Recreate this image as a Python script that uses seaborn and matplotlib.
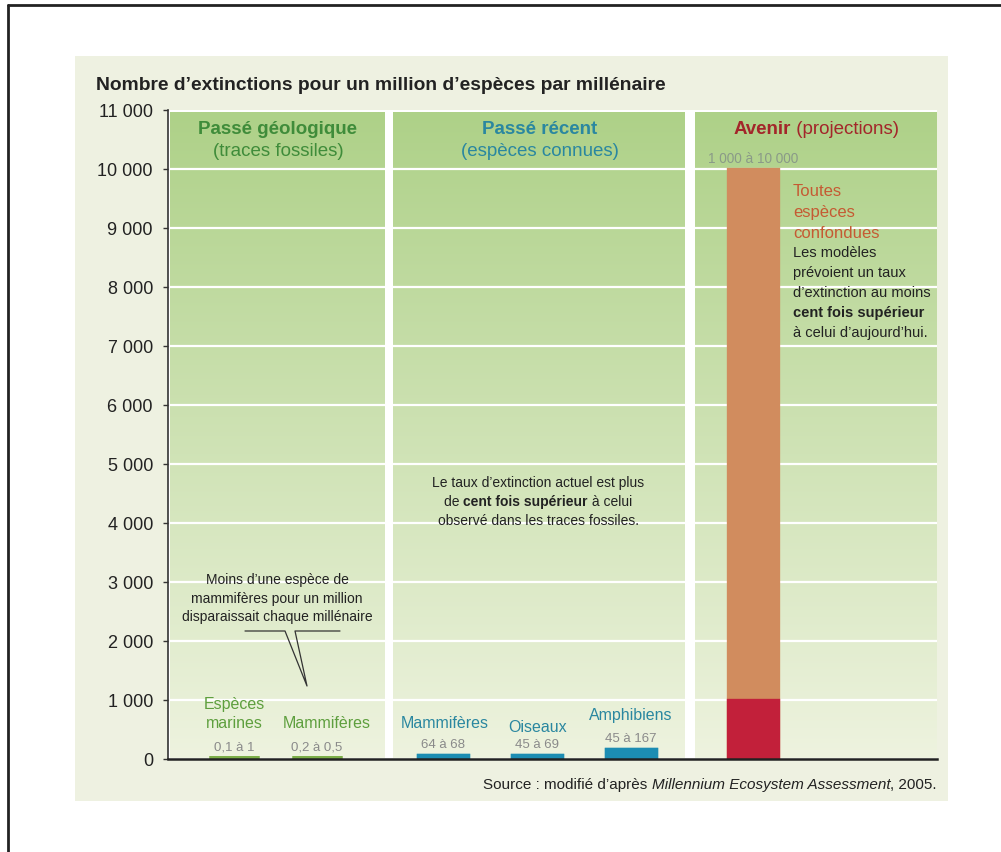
import numpy as np
import pandas as pd
import matplotlib
matplotlib.use("Agg")
import matplotlib.pyplot as plt
import seaborn as sns
from matplotlib.colors import to_rgb
from matplotlib.patches import Rectangle
from matplotlib.lines import Line2D
import matplotlib.transforms as mtrans

# ---------------- data ----------------
bar_ids = ["marines", "mammif_geo", "mammif_rec", "oiseaux", "amphibiens", "avenir"]
bar_names = ["Espèces\nmarines", "Mammifères", "Mammifères", "Oiseaux", "Amphibiens", "Toutes espèces confondues"]
range_labels = ["0,1 à 1", "0,2 à 0,5", "64 à 68", "45 à 69", "45 à 167", "1 000 à 10 000"]
low_values = [0.1, 0.2, 64, 45, 45, 1000]
high_values = [1, 0.5, 68, 69, 167, 10000]
ytick_values = [0, 1000, 2000, 3000, 4000, 5000, 6000, 7000, 8000, 9000, 10000, 11000]
ytick_labels = ["0", "1 000", "2 000", "3 000", "4 000", "5 000", "6 000", "7 000",
                "8 000", "9 000", "10 000", "11 000"]
panel_titles = ["Passé géologique", "Passé récent", "Avenir"]
panel_subtitles = ["(traces fossiles)", "(espèces connues)", " (projections)"]
title = "Nombre d\u2019extinctions pour un million d\u2019espèces par millénaire"

# ---------------- layout / style ----------------
W, H = 1001, 853
bar_x = [66.5, 149.5, 275.5, 370, 464, 586]          # slot positions on the x scale
panel_spans = [(3, 218), (226, 518), (528, 770)]
label_dx = [0, 10, 2, 0, 0, 0]
name_y = [None, 723, 723, 728, 716, None]
range_y = [748, 748, 745, 745, 739, None]

GEO_T = "#3f8c3a"; GEO_L = "#5e9f3e"; GEO_BAR = "#7cae48"
TEAL_T = "#2a87a0"; TEAL_BAR = "#1c8db3"
RED_T = "#a3262a"; RED_BAR = "#c2203a"; ORANGE_BAR = "#d18c5e"; ORANGE_T = "#c55a33"
GRAY = "#8a8a8a"; DARK = "#222222"; CREAM = "#eef1e1"

sns.set_theme(style="white")
plt.rcParams["font.family"] = ["Liberation Sans", "DejaVu Sans"]

fig = plt.figure(figsize=(W / 100, H / 100), dpi=100, facecolor="white")
fig.patches.append(Rectangle((75 / W, 1 - 802 / H), (948 - 75) / W, (802 - 57) / H,
                             transform=fig.transFigure, facecolor=CREAM, edgecolor="none", zorder=-5))
fig.add_artist(Line2D([8 / W, 1.0], [1 - 6 / H, 1 - 6 / H], color=DARK, lw=2))
fig.add_artist(Line2D([8 / W, 8 / W], [0, 1 - 6 / H], color=DARK, lw=2))

ax = fig.add_axes([167.5 / W, 93 / H, 769.5 / W, 649.5 / H])
ax.set_facecolor("white")
ax.set_zorder(1)

# panels with vertical gradient
top_c = np.array(to_rgb("#aed188")); bot_c = np.array(to_rgb("#eef3df"))
ytop = 10950
tt = np.linspace(0, 1, 256)[:, None]
grad = (bot_c * (1 - tt) + top_c * tt)[:, None, :]
for x0, x1 in panel_spans:
    ax.imshow(grad, extent=[x0, x1, 0, ytop], origin="lower", aspect="auto",
              zorder=0, interpolation="bilinear")

# bars
top_colors = [GEO_BAR, GEO_BAR, TEAL_BAR, TEAL_BAR, TEAL_BAR, ORANGE_BAR]
base_colors = [GEO_BAR, GEO_BAR, TEAL_BAR, TEAL_BAR, TEAL_BAR, RED_BAR]
df_top = pd.DataFrame({"x": bar_x, "value": high_values, "bar": bar_ids})
df_base = pd.DataFrame({"x": bar_x,
                        "value": [h if b != "avenir" else l for b, h, l in zip(bar_ids, high_values, low_values)],
                        "bar": bar_ids})
spacing = np.min(np.diff(sorted(bar_x)))
wrel = 50.5 / spacing
for d, cols in ((df_top, top_colors), (df_base, base_colors)):
    sns.barplot(data=d, x="x", y="value", hue="bar", hue_order=bar_ids, palette=cols,
                native_scale=True, width=wrel, dodge=False, legend=False, saturation=1,
                errorbar=None, ax=ax, zorder=2)
for p in ax.patches:
    p.set_edgecolor(p.get_facecolor())
    p.set_linewidth(5.0 if p.get_height() < 10 else 2.4)

ax.set_xlim(0, 770)
ax.set_ylim(0, 11000)
ax.set_yticks(ytick_values, labels=ytick_labels)
ax.set_xticks([])
ax.set_xlabel(""); ax.set_ylabel("")
ax.grid(axis="y", color="white", lw=1.6)
ax.grid(axis="x", visible=False)
ax.set_axisbelow(True)
for s in ("top", "right"):
    ax.spines[s].set_visible(False)
ax.spines["left"].set_color("#333333"); ax.spines["left"].set_linewidth(1.2)
ax.spines["bottom"].set_color(DARK); ax.spines["bottom"].set_linewidth(1.8)
ax.spines["bottom"].set_zorder(5)
ax.tick_params(axis="y", left=True, length=3.5, width=1, color="#333333",
               labelsize=13, labelcolor=DARK, pad=7)

# ---------------- text ----------------
renderer = fig.canvas.get_renderer()

def seg_width(s, **kw):
    a = fig.text(0, 0, "|" + s + "|", **kw)
    b = fig.text(0, 0, "||", **kw)
    w = a.get_window_extent(renderer).width - b.get_window_extent(renderer).width
    a.remove(); b.remove()
    return w

def rich(px, py, segs, ha="left", size=10, color=DARK):
    items = []
    for seg in segs:
        s, style = seg[0], seg[1]
        col = seg[2] if len(seg) > 2 else color
        kw = dict(fontsize=size, color=col)
        if "b" in style: kw["fontweight"] = "bold"
        if "i" in style: kw["fontstyle"] = "italic"
        items.append((s, kw, seg_width(s, **kw)))
    total = sum(w for _, _, w in items)
    x0 = px if ha == "left" else (px - total / 2 if ha == "center" else px - total)
    for s, kw, w in items:
        fig.text(x0 / W, 1 - py / H, s, ha="left", va="center", zorder=3, **kw)
        x0 += w

def ftext(px, py, s, **kw):
    kw.setdefault("va", "center")
    fig.text(px / W, 1 - py / H, s, zorder=3, **kw)

ftext(96, 86, title, fontsize=13.9, fontweight="bold", color=DARK, ha="left")

# panel headings
pc = [167.5 + (a + b) / 2 for a, b in panel_spans]
ftext(pc[0], 130, panel_titles[0], fontsize=13.5, fontweight="bold", color=GEO_T, ha="center")
ftext(pc[0], 152, panel_subtitles[0], fontsize=13.5, color=GEO_T, ha="center")
ftext(pc[1], 130, panel_titles[1], fontsize=13.5, fontweight="bold", color=TEAL_T, ha="center")
ftext(pc[1], 152, panel_subtitles[1], fontsize=13.5, color=TEAL_T, ha="center")
rich(pc[2], 130, [(panel_titles[2], "b"), (panel_subtitles[2], "")], ha="center", size=13.5, color=RED_T)

# avenir annotations
ftext(708, 159, range_labels[5], fontsize=9.8, color="#8a9a88", ha="left")
for i, line in enumerate(["Toutes", "espèces", "confondues"]):
    ftext(793, 192 + i * 20.5, line, fontsize=12, color=ORANGE_T, ha="left")
avenir_lines = [[("Les modèles", "")], [("prévoient un taux", "")],
                [("d\u2019extinction au moins", "")], [("cent fois supérieur", "b")],
                [("à celui d\u2019aujourd\u2019hui.", "")]]
for i, segs in enumerate(avenir_lines):
    rich(793, 253 + i * 20, segs, ha="left", size=10.5)

# recent-past note
note_lines = [[("Le taux d\u2019extinction actuel est plus", "")],
              [("de ", ""), ("cent fois supérieur", "b"), (" à celui", "")],
              [("observé dans les traces fossiles.", "")]]
for i, segs in enumerate(note_lines):
    rich(538, 483 + i * 19, segs, ha="center", size=10)

# geological callout
for i, line in enumerate(["Moins d\u2019une espèce de", "mammifères pour un million",
                          "disparaissait chaque millénaire"]):
    ftext(277, 580 + i * 18.5, line, fontsize=10, color=DARK, ha="center")
callout = [((245, 632), (285, 632), (307, 687), (295, 632), (340, 632))]
for pts in callout:
    xs = [p[0] / W for p in pts]; ys = [1 - p[1] / H for p in pts]
    fig.add_artist(Line2D(xs, ys, color="#333333", lw=0.9, zorder=3))

# bar labels
trans = mtrans.blended_transform_factory(ax.transData, fig.transFigure)
name_cols = [GEO_L, GEO_L, TEAL_T, TEAL_T, TEAL_T]
for i in range(5):
    x = bar_x[i] + label_dx[i]
    if i == 0:
        ax.text(x, 1 - 705 / H, "Espèces", transform=trans, ha="center", va="center",
                fontsize=11.5, color=name_cols[i])
        ax.text(x, 1 - 723 / H, "marines", transform=trans, ha="center", va="center",
                fontsize=11.5, color=name_cols[i])
    else:
        ax.text(x, 1 - name_y[i] / H, bar_names[i], transform=trans, ha="center", va="center",
                fontsize=11.5, color=name_cols[i])
    ax.text(bar_x[i], 1 - range_y[i] / H, range_labels[i], transform=trans, ha="center",
            va="center", fontsize=9.5, color=GRAY)

# source
rich(937, 785, [("Source : modifié d\u2019après ", ""), ("Millennium Ecosystem Assessment", "i"),
                (", 2005.", "")], ha="right", size=11)

fig.savefig("out.png", dpi=100, facecolor="white")
